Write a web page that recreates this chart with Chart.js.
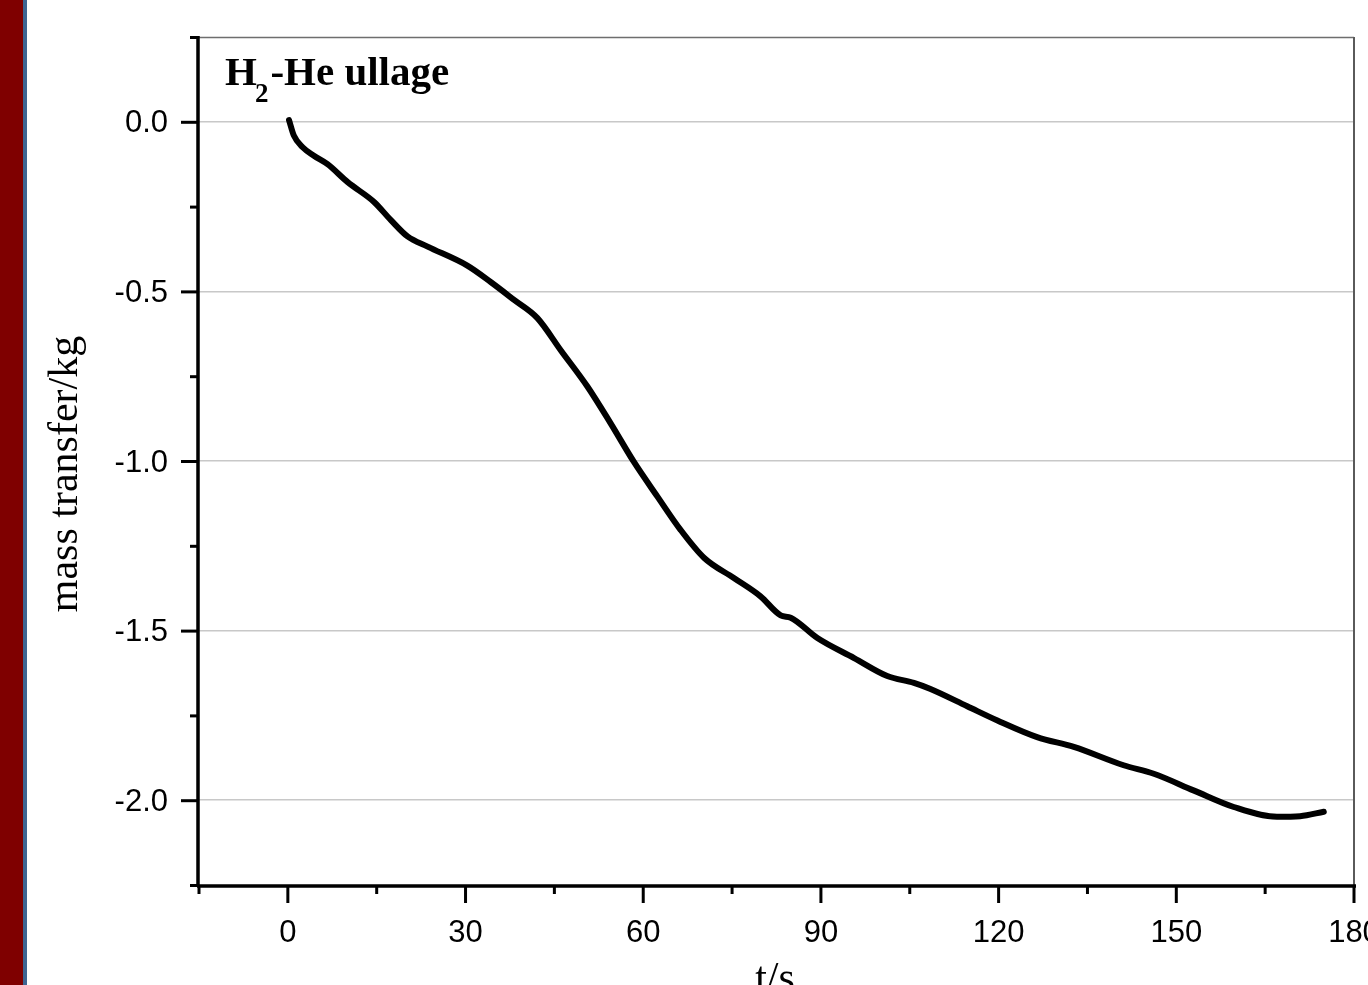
<!DOCTYPE html>
<html>
<head>
<meta charset="utf-8">
<script src="https://cdn.jsdelivr.net/npm/chart.js@4"></script>
<style>
  html, body { margin: 0; padding: 0; background: #fff; overflow: hidden; }
  #wrap { position: relative; width: 1368px; height: 985px; }
  #bandRed { position: absolute; left: 0; top: 0; width: 23px; height: 985px; background: #7f0000; }
  #bandBlue { position: absolute; left: 23px; top: 0; width: 4px; height: 985px; background: #3e6592; }
  #myChart { position: absolute; left: 0; top: 0; }
</style>
</head>
<body>
<div id="wrap">
  <canvas id="myChart" width="1368" height="985"></canvas>
  <div id="bandRed"></div>
  <div id="bandBlue"></div>
</div>
<script>
// values
const timeS = [0.2, 1.0, 2.5, 4.4, 6.7, 10.1, 14.6, 17.4, 20.2, 23.6, 30.3, 34.3, 38.2, 42.1,
  46.1, 50.6, 54.5, 58.4, 62.4, 66.3, 70.3, 75.3, 79.8, 83.2, 84.9, 89.4, 95.6, 101.2,
  105.7, 108.5, 114.7, 119.8, 126.5, 132.7, 141.1, 146.2, 152.9, 159.7, 167.0, 170.9, 174.9];
const massKg = [0.005, -0.04, -0.075, -0.10, -0.125, -0.178, -0.237, -0.29, -0.338, -0.368, -0.424, -0.473, -0.525, -0.578,
  -0.674, -0.781, -0.889, -1.002, -1.105, -1.203, -1.286, -1.345, -1.399, -1.455, -1.462, -1.522, -1.581, -1.634,
  -1.654, -1.672, -1.723, -1.765, -1.814, -1.843, -1.897, -1.922, -1.971, -2.020, -2.049, -2.047, -2.034];

const xTickLabels = [0, 30, 60, 90, 120, 150, 180];
const yTickLabels = [0.0, -0.5, -1.0, -1.5, -2.0];
const xTitle = 't/s';
const yTitle = 'mass transfer/kg';

const points = timeS.map((t, i) => ({ x: t, y: massKg[i] }));

function isMult(v, step) {
    const r = v / step;
    return Math.abs(r - Math.round(r)) < 1e-6;
}

const axesPlugin = {
    id: 'originAxes',
    afterDraw(chart) {
        const ctx = chart.ctx;
        const area = chart.chartArea;
        const xs = chart.scales.x;
        const ys = chart.scales.y;
        ctx.save();

        // frame: top and right in grey
        ctx.strokeStyle = '#6e6e6e';
        ctx.lineWidth = 1.5;
        ctx.beginPath();
        ctx.moveTo(area.left, area.top + 0.5);
        ctx.lineTo(area.right, area.top + 0.5);
        ctx.stroke();
        ctx.strokeStyle = '#5a5a5a';
        ctx.lineWidth = 2;
        ctx.beginPath();
        ctx.moveTo(area.right, area.top);
        ctx.lineTo(area.right, area.bottom);
        ctx.stroke();

        // axis lines
        ctx.strokeStyle = '#000';
        ctx.lineWidth = 3.5;
        ctx.beginPath();
        ctx.moveTo(area.left - 1, area.top - 1);
        ctx.lineTo(area.left - 1, area.bottom + 2);
        ctx.moveTo(area.left - 2, area.bottom + 1);
        ctx.lineTo(area.right + 2, area.bottom + 1);
        ctx.stroke();

        // y ticks
        ctx.lineWidth = 3;
        for (let v = 0.25; v >= -2.25 - 1e-9; v -= 0.25) {
            const py = ys.getPixelForValue(v);
            const len = isMult(v, 0.5) ? 17 : 8;
            ctx.beginPath();
            ctx.moveTo(area.left - 1 - len, py + 0.5);
            ctx.lineTo(area.left, py + 0.5);
            ctx.stroke();
        }
        // x ticks
        for (let v = -15; v <= 180; v += 15) {
            const px = xs.getPixelForValue(v);
            const len = isMult(v, 30) ? 17 : 8;
            ctx.beginPath();
            ctx.moveTo(px, area.bottom);
            ctx.lineTo(px, area.bottom + 1 + len);
            ctx.stroke();
        }

        // tick labels
        ctx.fillStyle = '#000';
        ctx.font = '31px "Liberation Sans", Arial, sans-serif';
        ctx.textBaseline = 'alphabetic';
        ctx.textAlign = 'right';
        yTickLabels.forEach(v => {
            ctx.fillText(v.toFixed(1), 168, ys.getPixelForValue(v) + 10.5);
        });
        ctx.textAlign = 'center';
        xTickLabels.forEach(v => {
            ctx.fillText(String(v), xs.getPixelForValue(v), 941.5);
        });

        // axis titles
        ctx.font = '42px "Liberation Serif", "Times New Roman", serif';
        ctx.fillText(xTitle, 775, 991);
        ctx.save();
        ctx.translate(77, 474);
        ctx.rotate(-Math.PI / 2);
        ctx.textAlign = 'center';
        ctx.fillText(yTitle, 0, 0);
        ctx.restore();

        // annotation H2-He ullage
        ctx.textAlign = 'left';
        ctx.font = 'bold 41px "Liberation Serif", "Times New Roman", serif';
        let x0 = 225;
        ctx.fillText('H', x0, 85);
        x0 += ctx.measureText('H').width - 2;
        ctx.font = 'bold 27px "Liberation Serif", "Times New Roman", serif';
        ctx.fillText('2', x0, 102);
        x0 += ctx.measureText('2').width + 2;
        ctx.font = 'bold 41px "Liberation Serif", "Times New Roman", serif';
        ctx.fillText('-He ullage', x0, 85);

        ctx.restore();
    }
};

const data = {
    datasets: [{
        label: 'mass transfer',
        data: points,
        borderColor: '#000',
        backgroundColor: '#000',
        borderWidth: 6,
        pointRadius: 0,
        cubicInterpolationMode: 'monotone',
        borderCapStyle: 'round',
        borderJoinStyle: 'round',
        fill: false
    }]
};

const config = {
    type: 'line',
    data: data,
    options: {
        responsive: false,
        animation: false,
        devicePixelRatio: 1,
        layout: { padding: { top: 37, right: 14, left: 0, bottom: 0 } },
        plugins: {
            legend: { display: false },
            tooltip: { enabled: false }
        },
        scales: {
            x: {
                type: 'linear',
                min: -15,
                max: 180,
                ticks: { display: false, stepSize: 15 },
                grid: { display: false },
                border: { display: false },
                afterFit(scale) { scale.height = 100; }
            },
            y: {
                type: 'linear',
                min: -2.25,
                max: 0.25,
                ticks: { display: false, stepSize: 0.25 },
                grid: {
                    drawTicks: false,
                    lineWidth: 1.5,
                    color: c => {
                        const v = c.tick ? c.tick.value : 0;
                        return (isMult(v, 0.5) && v > -2.2 && v < 0.2) ? '#c8c8c8' : 'rgba(0,0,0,0)';
                    }
                },
                border: { display: false },
                afterFit(scale) { scale.width = 199; }
            }
        }
    },
    plugins: [axesPlugin]
};

let myChart = new Chart(document.getElementById('myChart'), config);
</script>
</body>
</html>
